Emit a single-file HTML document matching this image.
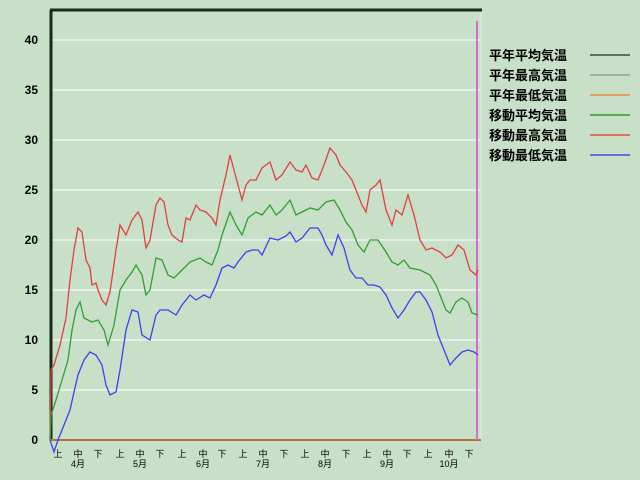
<!DOCTYPE html>
<html><head><meta charset="utf-8"><style>
body{margin:0;background:#c8dfc8;width:640px;height:480px;overflow:hidden}
svg{display:block}
text{font-family:"Liberation Sans","Noto Sans CJK JP",sans-serif}
</style></head><body>
<svg width="640" height="480" xmlns="http://www.w3.org/2000/svg">
<rect width="640" height="480" fill="#c8dfc8"/>
<g stroke="#e6efe6" stroke-width="2">
<line x1="50" y1="40" x2="480" y2="40"/><line x1="50" y1="90" x2="480" y2="90"/>
<line x1="50" y1="140" x2="480" y2="140"/><line x1="50" y1="190" x2="480" y2="190"/>
<line x1="50" y1="240" x2="480" y2="240"/><line x1="50" y1="290" x2="480" y2="290"/>
<line x1="50" y1="340" x2="480" y2="340"/><line x1="50" y1="390" x2="480" y2="390"/>
</g>
<line x1="481" y1="10" x2="481" y2="440" stroke="#e6efe6" stroke-width="1"/>
<line x1="50" y1="10" x2="482" y2="10" stroke="#1a2a1a" stroke-width="3"/>
<line x1="51" y1="10" x2="51" y2="440" stroke="#1a2a1a" stroke-width="3"/>
<line x1="50" y1="440" x2="481" y2="440" stroke="#b07040" stroke-width="2"/>
<line x1="477" y1="21" x2="477" y2="440" stroke="#d070d0" stroke-width="2"/>
<g font-size="12" font-weight="bold" fill="#000" text-anchor="end">
<text x="38" y="44">40</text><text x="38" y="94">35</text><text x="38" y="144">30</text>
<text x="38" y="194">25</text><text x="38" y="244">20</text><text x="38" y="294">15</text>
<text x="38" y="344">10</text><text x="38" y="394">5</text><text x="38" y="444">0</text>
</g>
<g font-size="9" fill="#000" text-anchor="middle">
<text x="58" y="457">上</text><text x="78" y="457">中</text><text x="98" y="457">下</text>
<text x="120" y="457">上</text><text x="140" y="457">中</text><text x="160" y="457">下</text>
<text x="182" y="457">上</text><text x="203" y="457">中</text><text x="222" y="457">下</text>
<text x="243" y="457">上</text><text x="263" y="457">中</text><text x="284" y="457">下</text>
<text x="305" y="457">上</text><text x="325" y="457">中</text><text x="346" y="457">下</text>
<text x="367" y="457">上</text><text x="387" y="457">中</text><text x="407" y="457">下</text>
<text x="428" y="457">上</text><text x="449" y="457">中</text><text x="469" y="457">下</text>
<text x="78" y="467">4月</text><text x="140" y="467">5月</text><text x="203" y="467">6月</text>
<text x="263" y="467">7月</text><text x="325" y="467">8月</text><text x="387" y="467">9月</text>
<text x="449" y="467">10月</text>
</g>
<polyline fill="none" stroke="#e04040" stroke-width="1.3" points="50,440 51,370 54,365 60,345 66,318 70,280 74,250 78,228 82,232 86,260 90,268 92,285 96,283 98,290 102,300 106,305 110,292 116,250 120,225 126,235 132,220 138,212 142,220 146,248 150,240 156,205 160,198 164,202 168,225 172,235 178,240 182,242 186,218 190,220 196,205 200,210 206,212 212,218 216,225 220,200 226,175 230,155 234,170 238,185 242,200 246,185 250,180 256,180 262,168 270,162 276,180 282,175 290,162 296,170 302,172 306,165 312,178 318,180 324,165 330,148 336,155 340,165 346,172 352,180 358,195 362,205 366,212 370,190 376,185 380,180 386,210 392,225 396,210 402,215 408,195 414,215 420,240 426,250 432,248 440,252 446,258 452,255 458,245 464,250 470,270 476,275 478,270"/>
<polyline fill="none" stroke="#30a030" stroke-width="1.3" points="50,440 51,415 56,400 62,380 68,360 72,330 76,310 80,302 84,318 88,320 92,322 98,320 104,330 108,345 114,325 120,290 126,280 132,272 136,265 142,275 146,295 150,290 156,258 162,260 168,275 174,278 182,270 190,262 200,258 206,262 212,265 218,250 222,235 230,212 236,225 242,235 248,218 256,212 262,215 270,205 276,215 282,210 290,200 296,215 302,212 310,208 318,210 326,202 334,200 340,210 346,222 352,230 358,245 364,252 370,240 378,240 386,252 392,262 398,265 404,260 410,268 420,270 430,275 436,285 442,300 446,310 450,313 456,302 462,298 468,302 472,313 478,315"/>
<polyline fill="none" stroke="#4040f0" stroke-width="1.3" points="50,440 52,446 54,452 58,440 64,425 70,410 74,392 78,375 84,360 90,352 96,355 102,365 106,385 110,395 116,392 120,370 126,330 132,310 138,312 142,335 150,340 156,315 160,310 168,310 176,315 182,305 190,295 196,300 204,295 210,298 216,285 222,268 228,265 234,268 238,262 246,252 252,250 258,250 262,255 270,238 278,240 286,236 290,232 296,242 302,238 310,228 318,228 322,235 326,245 332,255 338,235 344,248 350,270 356,278 362,278 368,285 374,285 380,287 386,295 392,308 398,318 404,310 410,300 416,292 420,292 426,300 432,312 438,335 444,350 450,365 456,358 462,352 468,350 474,352 478,355"/>
<g font-size="13" font-weight="bold" fill="#000">
<text x="489" y="60">平年平均気温</text><text x="489" y="80">平年最高気温</text>
<text x="489" y="100">平年最低気温</text><text x="489" y="120">移動平均気温</text>
<text x="489" y="140">移動最高気温</text><text x="489" y="160">移動最低気温</text>
</g>
<g stroke-width="2">
<line x1="590" y1="55" x2="630" y2="55" stroke="#607060"/>
<line x1="590" y1="75" x2="630" y2="75" stroke="#a0b0a0"/>
<line x1="590" y1="95" x2="630" y2="95" stroke="#e0a060"/>
<line x1="590" y1="115" x2="630" y2="115" stroke="#50b050"/>
<line x1="590" y1="135" x2="630" y2="135" stroke="#e07060"/>
<line x1="590" y1="155" x2="630" y2="155" stroke="#6070e0"/>
</g>
</svg>
</body></html>
